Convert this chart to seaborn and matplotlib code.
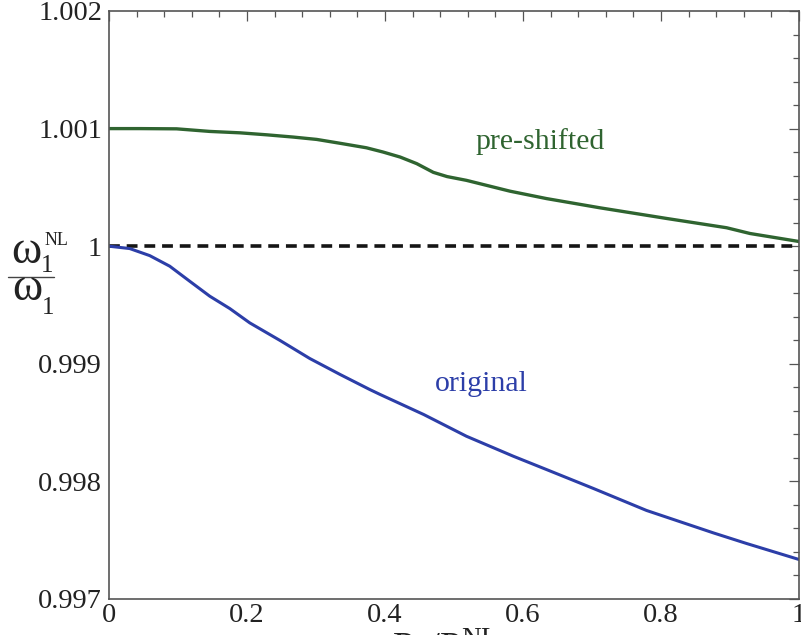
import numpy as np
import pandas as pd
import seaborn as sns
import matplotlib
matplotlib.use("Agg")
import matplotlib.pyplot as plt
from matplotlib.lines import Line2D
from matplotlib.ticker import MultipleLocator

# Frequency ratio versus normalised power, for the pre-shifted and original designs
preshift_x = [0.0, 0.045, 0.098, 0.146, 0.190, 0.229, 0.267, 0.301, 0.335, 0.373,
              0.397, 0.422, 0.446, 0.470, 0.490, 0.518, 0.581, 0.634, 0.712, 0.808,
              0.895, 0.929, 1.0]
preshift_y = [1.001, 1.001, 1.000998, 1.000976, 1.000964, 1.000947, 1.000928,
              1.000908, 1.000875, 1.000837, 1.000801, 1.000758, 1.000702,
              1.000628, 1.000592, 1.000560, 1.000468, 1.000405, 1.000326,
              1.000236, 1.000157, 1.000108, 1.00004]

original_x = [0.0, 0.030, 0.059, 0.088, 0.117, 0.146, 0.175, 0.204, 0.248, 0.291,
              0.335, 0.378, 0.393, 0.456, 0.518, 0.586, 0.634, 0.702, 0.779,
              0.876, 0.924, 1.0]
original_y = [1.0, 0.999980, 0.999920, 0.999830, 0.999702, 0.999575, 0.999470,
              0.999348, 0.999198, 0.999045, 0.998909, 0.998781, 0.998739,
              0.998569, 0.998384, 0.998214, 0.998101, 0.997940, 0.997753,
              0.997562, 0.997472, 0.997336]

reference_x = [0.0, 1.0]
reference_y = [1.0, 1.0]

xticks = [0.0, 0.2, 0.4, 0.6, 0.8, 1.0]
xtick_labels = ["0", "0.2", "0.4", "0.6", "0.8", "1"]
yticks = [0.997, 0.998, 0.999, 1.0, 1.001, 1.002]
ytick_labels = ["0.997", "0.998", "0.999", "1", "1.001", "1.002"]

green = "#2f6430"
blue = "#2c3ea8"
ink = "#222222"

sns.set_style("white")
plt.rcParams["font.family"] = ["Liberation Serif", "DejaVu Serif"]
plt.rcParams["mathtext.fontset"] = "custom"
plt.rcParams["mathtext.rm"] = "Liberation Serif"
plt.rcParams["mathtext.it"] = "Liberation Serif:italic"
plt.rcParams["mathtext.bf"] = "Liberation Serif:bold"

W, H = 801, 635
fig = plt.figure(figsize=(W / 100, H / 100), dpi=100)
ax = fig.add_axes([109 / W, 1 - 599 / H, 690 / W, 588 / H])

pre = pd.DataFrame({"x": preshift_x, "y": preshift_y})
orig = pd.DataFrame({"x": original_x, "y": original_y})
ref = pd.DataFrame({"x": reference_x, "y": reference_y})

sns.lineplot(data=ref, x="x", y="y", ax=ax, color="#151515", lw=2.6,
             linestyle=(0, (3.0, 1.9)))
sns.lineplot(data=pre, x="x", y="y", ax=ax, color=green, lw=2.4)
sns.lineplot(data=orig, x="x", y="y", ax=ax, color=blue, lw=2.2)

ax.set_xlim(0, 1)
ax.set_ylim(0.997, 1.002)
ax.set_xticks(xticks)
ax.set_xticklabels(xtick_labels)
ax.set_yticks(yticks)
ax.set_yticklabels(ytick_labels)
ax.xaxis.set_minor_locator(MultipleLocator(0.04))
ax.yaxis.set_minor_locator(MultipleLocator(0.0002))
ax.tick_params(which="both", direction="in", top=True, right=True,
               colors="#555555", labelcolor=ink, width=0.9)
ax.tick_params(which="major", length=7, labelsize=20.5)
ax.tick_params(which="minor", length=4)
ax.tick_params(axis="x", which="major", pad=3)
ax.tick_params(axis="y", which="major", pad=5)
for side in ax.spines.values():
    side.set_color("#555555")
    side.set_linewidth(1.2)
ax.set_xlabel("")
ax.set_ylabel("")

ax.text(0.625, 1.000886, "pre-shifted", color=green, fontsize=21.5,
        ha="center", va="center")
ax.text(0.54, 0.998826, "original", color=blue, fontsize=21.5,
        ha="center", va="center")


def ftext(x, y, s, size):
    """Place text by its left edge and baseline, in pixel coordinates."""
    fig.text(x / W, 1 - y / H, s, fontsize=size, ha="left", va="baseline",
             color=ink)


# y-axis label drawn as a stacked fraction: omega_1^NL over omega_1
ftext(11, 263, "ω", 33)
ftext(41, 272, "1", 18)
ftext(45, 245, "NL", 13)
fig.add_artist(Line2D([8 / W, 54 / W], [1 - 277 / H, 1 - 277 / H],
                      transform=fig.transFigure, color="#444444", lw=1.0))
ftext(12, 300, "ω", 33)
ftext(42, 314, "1", 18)

fig.text(445 / W, 1 - 627 / H,
         r"$\mathrm{P}_{\mathrm{1}}/\mathrm{P}_{\mathrm{1}}^{\mathrm{NL}}$",
         fontsize=28, ha="center", va="top", color=ink)

fig.savefig("out.png", dpi=100)
